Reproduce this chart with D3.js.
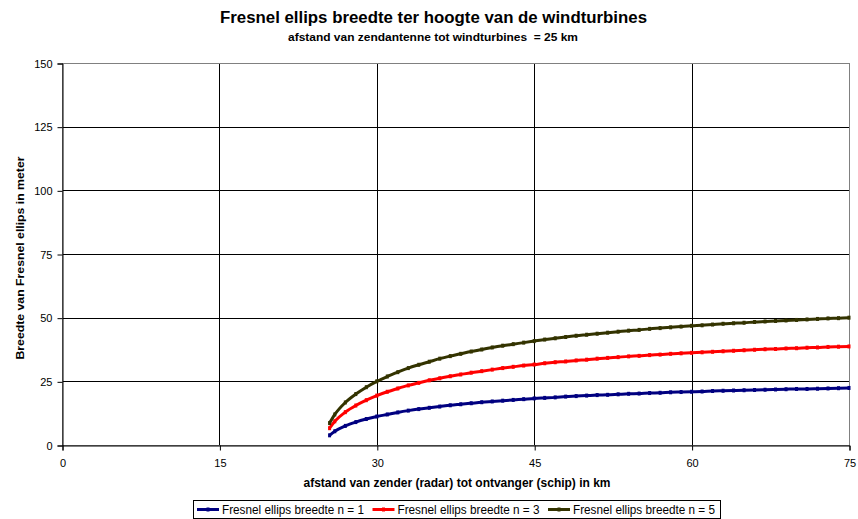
<!DOCTYPE html>
<html>
<head>
<meta charset="utf-8">
<script src="https://cdn.jsdelivr.net/npm/d3@7"></script>
<style>
  html, body { margin: 0; padding: 0; background: #fff; }
  svg { display: block; font-family: "Liberation Sans", Arial, sans-serif; }
</style>
</head>
<body>
<svg id="chart" width="858" height="519"></svg>
<script>
// Distance transmitter -> receiver (km)
const distances = [25.5, 26, 27, 28, 29, 30, 31, 32, 33, 34, 35, 36, 37, 38, 39, 40,
  41, 42, 43, 44, 45, 46, 47, 48, 49, 50, 51, 52, 53, 54, 55, 56, 57, 58, 59, 60,
  61, 62, 63, 64, 65, 66, 67, 68, 69, 70, 71, 72, 73, 74, 75];

// Fresnel ellipse width at the turbines (m)
const widthN1 = [3.8, 5.4, 7.5, 9.0, 10.2, 11.2, 12.0, 12.8, 13.5, 14.1, 14.6, 15.1, 15.6, 16.0, 16.4, 16.8,
  17.1, 17.4, 17.7, 18.0, 18.3, 18.5, 18.7, 19.0, 19.2, 19.4, 19.6, 19.7, 19.9, 20.1, 20.2, 20.4, 20.5, 20.7, 20.8, 20.9,
  21.0, 21.2, 21.3, 21.4, 21.5, 21.6, 21.7, 21.8, 21.9, 22.0, 22.0, 22.1, 22.2, 22.3, 22.4];
const widthN3 = [6.6, 9.3, 12.9, 15.5, 17.6, 19.4, 20.9, 22.2, 23.4, 24.4, 25.4, 26.2, 27.0, 27.7, 28.4, 29.0,
  29.6, 30.2, 30.7, 31.2, 31.6, 32.1, 32.5, 32.8, 33.2, 33.5, 33.9, 34.2, 34.5, 34.8, 35.0, 35.3, 35.5, 35.8, 36.0, 36.2,
  36.4, 36.6, 36.8, 37.0, 37.2, 37.4, 37.6, 37.7, 37.9, 38.0, 38.2, 38.3, 38.5, 38.6, 38.7];
const widthN5 = [8.6, 12.0, 16.7, 20.0, 22.7, 25.0, 26.9, 28.6, 30.2, 31.5, 32.7, 33.9, 34.9, 35.8, 36.7, 37.5,
  38.3, 39.0, 39.6, 40.2, 40.8, 41.4, 41.9, 42.4, 42.9, 43.3, 43.7, 44.1, 44.5, 44.9, 45.2, 45.6, 45.9, 46.2, 46.5, 46.8,
  47.0, 47.3, 47.6, 47.8, 48.0, 48.3, 48.5, 48.7, 48.9, 49.1, 49.3, 49.5, 49.7, 49.8, 50.0];

const seriesNames = ["Fresnel ellips breedte n = 1", "Fresnel ellips breedte n = 3", "Fresnel ellips breedte n = 5"];
const seriesColors = ["#000080", "#FF0000", "#333300"];
const xTicks = [0, 15, 30, 45, 60, 75];
const yTicks = [0, 25, 50, 75, 100, 125, 150];

const titleText = "Fresnel ellips breedte ter hoogte van de windturbines";
const subtitleText = "afstand van zendantenne tot windturbines  = 25 km";
const xTitle = "afstand van zender (radar) tot ontvanger (schip) in km";
const yTitle = "Breedte van Fresnel ellips in meter";

const svg = d3.select("#chart");
const plot = { left: 62, right: 849, top: 63, bottom: 445 };

const x = d3.scaleLinear().domain([0, 75]).range([plot.left, plot.right]);
const y = d3.scaleLinear().domain([0, 150]).range([plot.bottom, plot.top]);

// Titles
svg.append("text").attr("x", 433.5).attr("y", 23).attr("text-anchor", "middle")
  .attr("font-size", 16).attr("font-weight", "bold")
  .attr("textLength", 427).attr("lengthAdjust", "spacingAndGlyphs").text(titleText);
svg.append("text").attr("x", 433).attr("y", 41).attr("text-anchor", "middle")
  .attr("font-size", 11).attr("font-weight", "bold").attr("xml:space", "preserve")
  .attr("textLength", 290).attr("lengthAdjust", "spacingAndGlyphs").text(subtitleText);

// Gridlines
const grid = svg.append("g");
grid.selectAll(".hg").data(yTicks.filter(d => d > 0 && d < 150)).join("line")
  .attr("x1", plot.left).attr("x2", plot.right)
  .attr("y1", d => Math.round(y(d)) + 0.5).attr("y2", d => Math.round(y(d)) + 0.5)
  .attr("stroke", "#000").attr("stroke-width", 1);
grid.selectAll(".vg").data(xTicks.filter(d => d > 0 && d < 75)).join("line")
  .attr("y1", plot.top).attr("y2", plot.bottom)
  .attr("x1", d => Math.round(x(d)) + 0.5).attr("x2", d => Math.round(x(d)) + 0.5)
  .attr("stroke", "#000").attr("stroke-width", 1);

// Plot area border
svg.append("rect")
  .attr("x", plot.left + 0.5).attr("y", plot.top + 0.5)
  .attr("width", plot.right - plot.left).attr("height", plot.bottom - plot.top)
  .attr("fill", "none").attr("stroke", "#808080").attr("stroke-width", 1);

// Axes
const yAxis = d3.axisLeft(y).tickValues(yTicks).tickSize(5).tickPadding(5);
const gy = svg.append("g").attr("transform", `translate(${plot.left + 0.5},0.5)`).call(yAxis);
const xAxis = d3.axisBottom(x).tickValues(xTicks).tickSize(5).tickPadding(9);
const gx = svg.append("g").attr("transform", `translate(0.5,${plot.bottom + 0.5})`).call(xAxis);
[gy, gx].forEach(g => {
  g.select(".domain").attr("stroke", "#000");
  g.selectAll(".tick line").attr("stroke", "#000");
  g.selectAll(".tick text").attr("font-size", 11).attr("fill", "#000")
    .attr("font-family", "'Liberation Sans', Arial, sans-serif");
});

// Axis titles
svg.append("text").attr("x", 457).attr("y", 487).attr("text-anchor", "middle")
  .attr("font-size", 12).attr("font-weight", "bold")
  .attr("textLength", 307).attr("lengthAdjust", "spacingAndGlyphs").text(xTitle);
svg.append("text").attr("transform", `translate(24,258) rotate(-90)`)
  .attr("text-anchor", "middle").attr("font-size", 11.5).attr("font-weight", "bold")
  .attr("textLength", 203).attr("lengthAdjust", "spacingAndGlyphs").text(yTitle);

// Series lines with small markers at each data point
const series = [widthN1, widthN3, widthN5];
const line = d3.line().x((d, i) => x(distances[i])).y(d => y(d)).curve(d3.curveMonotoneX);
svg.append("clipPath").attr("id", "plotclip").append("rect")
  .attr("x", plot.left).attr("y", plot.top - 5)
  .attr("width", plot.right - plot.left + 3).attr("height", plot.bottom - plot.top + 5);
const lines = svg.append("g").attr("clip-path", "url(#plotclip)");
series.forEach((vals, k) => {
  lines.append("path").datum(vals).attr("d", line)
    .attr("fill", "none").attr("stroke", seriesColors[k]).attr("stroke-width", 3)
    .attr("stroke-linejoin", "round");
  lines.selectAll(null).data(vals).join("rect")
    .attr("x", (d, i) => x(distances[i]) - 1.5).attr("y", d => y(d) - 2)
    .attr("width", 3).attr("height", 4).attr("fill", seriesColors[k]);
});

// Legend
const legend = svg.append("g");
legend.append("rect").attr("x", 193.5).attr("y", 500.5).attr("width", 527).attr("height", 18)
  .attr("fill", "#fff").attr("stroke", "#000").attr("stroke-width", 1);
const legendX = [197, 372.5, 548];
seriesNames.forEach((name, k) => {
  legend.append("line").attr("x1", legendX[k]).attr("x2", legendX[k] + 22)
    .attr("y1", 509.5).attr("y2", 509.5).attr("stroke", seriesColors[k]).attr("stroke-width", 3);
  legend.append("rect").attr("x", legendX[k] + 9.5).attr("y", 507.5).attr("width", 3).attr("height", 4)
    .attr("fill", seriesColors[k]);
  legend.append("text").attr("x", legendX[k] + 25).attr("y", 514)
    .attr("font-size", 12).attr("textLength", 142).attr("lengthAdjust", "spacingAndGlyphs").text(name);
});
</script>
</body>
</html>
